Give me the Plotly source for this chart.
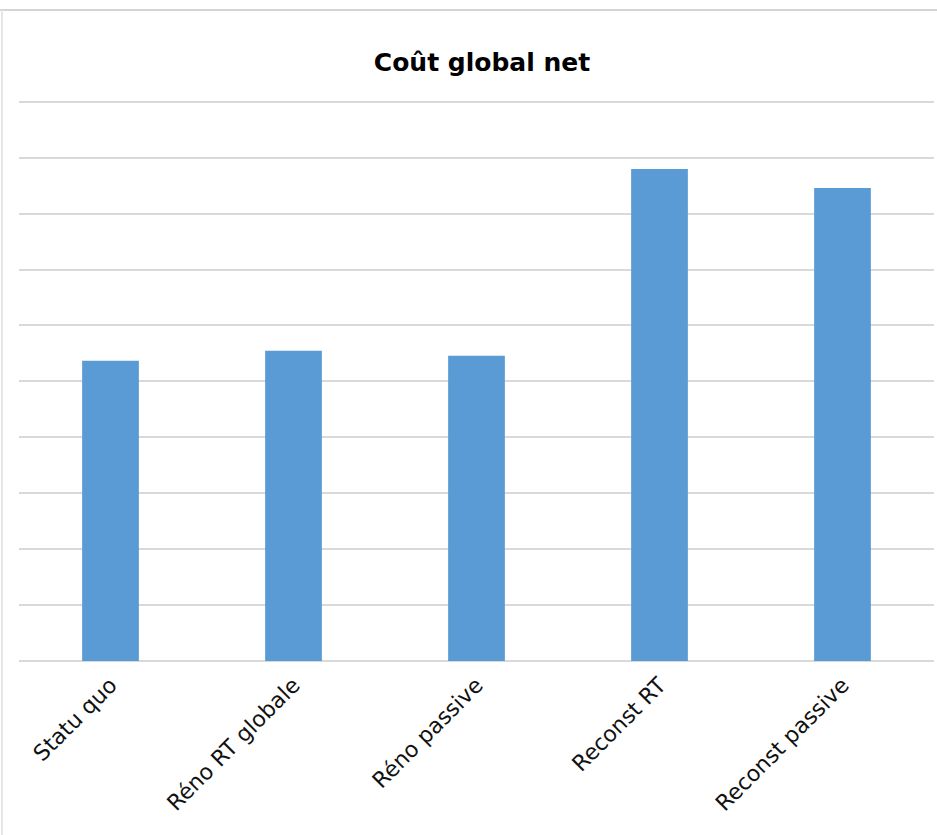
import plotly.graph_objects as go

categories = ["Statu quo", "Réno RT globale", "Réno passive", "Reconst RT", "Reconst passive"]
values = [5.37, 5.55, 5.46, 8.80, 8.46]

fig = go.Figure()
fig.add_trace(go.Bar(x=categories, y=values, marker=dict(color="#5B9BD5", line=dict(width=0))))

plot_h = 835 - 99 - 174
fig.update_layout(
    width=937, height=835,
    margin=dict(l=19, r=3, t=99, b=174),
    paper_bgcolor="white", plot_bgcolor="white",
    title=dict(text="<b>Coût global net</b>", x=482/937, xanchor="center", y=1-62/835, yanchor="middle",
               font=dict(family="DejaVu Sans, Arial, sans-serif", size=25, color="black")),
    bargap=0.69,
    showlegend=False,
    font=dict(family="DejaVu Sans, Arial, sans-serif"),
    shapes=[
        dict(type="line", xref="paper", yref="paper", x0=-19/915, x1=1+3/915, y0=1+89/plot_h, y1=1+89/plot_h,
             line=dict(color="#d4d4d4", width=2)),
        dict(type="line", xref="paper", yref="paper", x0=-17/915, x1=-17/915, y0=1+89/plot_h, y1=-174/plot_h,
             line=dict(color="#e6e6e6", width=2)),
    ],
)
fig.update_xaxes(tickangle=-45, tickfont=dict(size=22, color="#111111"), showline=False, ticks="", showgrid=False,
                 ticklabelstandoff=6)
fig.update_yaxes(range=[0, 10.05], dtick=1, showticklabels=False, showgrid=True, gridcolor="#d9d9d9", gridwidth=2,
                 zeroline=True, zerolinecolor="#d9d9d9", zerolinewidth=2, ticks="")

fig.write_html("out.html")
